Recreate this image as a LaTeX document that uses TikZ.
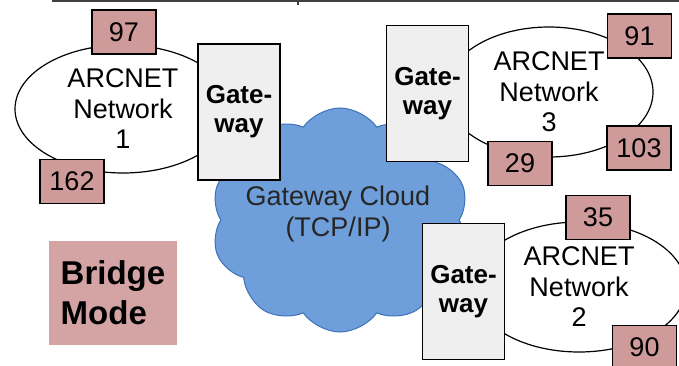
\documentclass[tikz,border=0pt]{standalone}
\usepackage{fontspec}
\setmainfont{Liberation Sans}
\usetikzlibrary{shapes.geometric,shapes.symbols}
\definecolor{rosa}{RGB}{207,154,154}
\definecolor{rosaclaro}{RGB}{212,164,164}
\definecolor{gris}{RGB}{239,239,239}
\definecolor{nube}{RGB}{111,159,218}
\definecolor{nubeborde}{RGB}{62,112,185}
\tikzset{
  texto/.style={font=\fontsize{27}{30.5}\selectfont},
  red/.style={draw,ellipse,fill=white,line width=1.2pt,inner sep=0pt,align=center,texto},
  nodo/.style={draw,fill=rosa,line width=1.2pt,minimum width=64,minimum height=44,inner sep=0pt,texto},
  gw/.style={draw,fill=gris,line width=1.2pt,minimum width=82,minimum height=136,inner sep=0pt,align=center,font=\bfseries\fontsize{26}{29}\selectfont}
}
\begin{document}
\begin{tikzpicture}[x=1pt,y=-1pt]
  \useasboundingbox (0,0) rectangle (679,366);
  % borde de tabla
  \draw[line width=1.2pt,black!75] (52,1) -- (679,1);
  \draw[line width=1.2pt,black!75] (298,0) -- (298,5);

  % redes
  \node[red,minimum width=216,minimum height=128] (red1) at (123,109) {ARCNET\\Network\\1};
  \node[red,minimum width=208,minimum height=130] (red3) at (549,92) {ARCNET\\Network\\3};
  \node[red,minimum width=214,minimum height=130] (red2) at (579,287) {ARCNET\\Network\\2};

  % nube
  \node[cloud,cloud puffs=10,cloud puff arc=110,cloud ignores aspect,fill=nube,draw=nubeborde,line width=1pt,
        minimum width=258,minimum height=224,inner sep=0pt] (nube) at (340,220) {};
  \node[align=center,texto,text=black!85,inner sep=0pt] (nubetxt) at (338,214) {Gateway Cloud\\(TCP/IP)};

  % gateways
  \node[gw] (gw1) at (239,112) {Gate-\\way};
  \node[gw] (gw3) at (427.5,93.5) {Gate-\\way};
  \node[gw] (gw2) at (463.5,291.5) {Gate-\\way};

  % nodos
  \node[nodo] (n97) at (124,32) {97};
  \node[nodo] (n162) at (72,181.5) {162};
  \node[nodo] (n91) at (639.5,36) {91};
  \node[nodo] (n29) at (520,163.5) {29};
  \node[nodo] (n103) at (639,148) {103};
  \node[nodo] (n35) at (598,217.5) {35};
  \node[nodo] (n90) at (644.5,347.5) {90};

  \node[fill=rosaclaro,minimum width=128,minimum height=104,align=left,
        font=\bfseries\fontsize{33}{40}\selectfont] (modo) at (113,293) {Bridge\\Mode};
\end{tikzpicture}
\end{document}
